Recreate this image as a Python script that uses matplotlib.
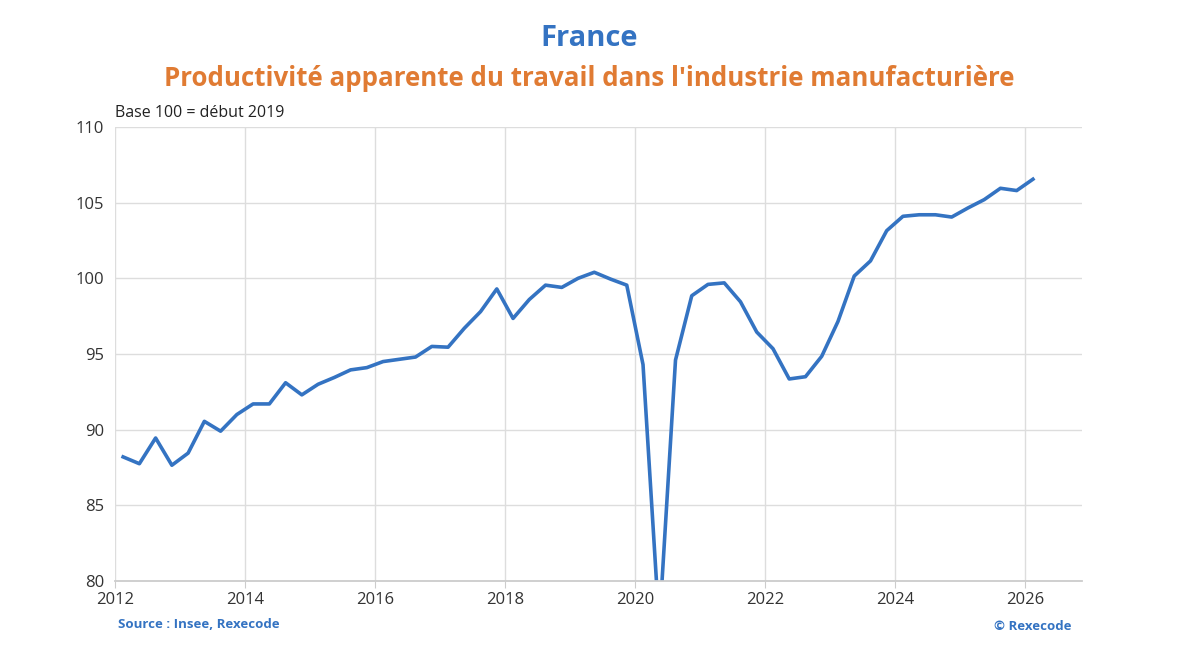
import numpy as np
import matplotlib.pyplot as plt

# Quarterly data, 2012 Q1 -> 2026 Q1 (base 100 = début 2019)
years = list(range(2012, 2027))
quarters = [y + (q * 3 + 1.5) / 12 for y in years for q in range(4)][:57]
productivity = [
    88.2, 87.75, 89.45, 87.65, 88.45, 90.55, 89.9, 91.0,
    91.7, 91.7, 93.1, 92.3, 93.0, 93.45, 93.95, 94.1,
    94.5, 94.65, 94.8, 95.5, 95.45, 96.7, 97.8, 99.3,
    97.35, 98.6, 99.55, 99.4, 100.0, 100.4, 99.95, 99.55,
    94.3, 77.0, 94.6, 98.85, 99.6, 99.7, 98.45, 96.45,
    95.35, 93.35, 93.5, 94.85, 97.15, 100.15, 101.15, 103.15,
    104.1, 104.2, 104.2, 104.05, 104.65, 105.2, 105.95, 105.8,
    106.55,
]
xticks = [2012, 2014, 2016, 2018, 2020, 2022, 2024, 2026]
yticks = [80, 85, 90, 95, 100, 105, 110]

plt.rcParams['font.family'] = ['Open Sans', 'DejaVu Sans']

fig = plt.figure(figsize=(11.79, 6.6), dpi=100)
ax = fig.add_axes([115 / 1179, 1 - 581 / 660, (1082 - 115) / 1179, (581 - 127) / 660])

ax.plot(quarters, productivity, color='#3473c2', linewidth=2.6, solid_joinstyle='round')

ax.set_xlim(2012, 2026.88)
ax.set_ylim(80, 110)
ax.set_xticks(xticks)
ax.set_yticks(yticks)
ax.grid(True, color='#dddddd', linewidth=1)
ax.set_axisbelow(True)
for s in ['top', 'right', 'left']:
    ax.spines[s].set_visible(False)
ax.spines['bottom'].set_color('#cccccc')
ax.spines['bottom'].set_linewidth(1.3)
ax.tick_params(axis='y', length=0, labelsize=12, labelcolor='#333333', pad=8)
ax.tick_params(axis='x', length=5, color='#cccccc', labelsize=12, labelcolor='#333333', pad=3)

fig.text(0.5, 1 - 38 / 660, 'France', ha='center', va='center',
         fontsize=21, fontweight='bold', color='#3473c2')
fig.text(0.5, 1 - 78 / 660, "Productivité apparente du travail dans l'industrie manufacturière",
         ha='center', va='center', fontsize=18.6, fontweight='bold', color='#e07b33')
fig.text(115 / 1179, 1 - 113 / 660, 'Base 100 = début 2019', ha='left', va='center',
         fontsize=11.5, color='#222222')
fig.text(118 / 1179, 1 - 625 / 660, 'Source : Insee, Rexecode', ha='left', va='center',
         fontsize=9.5, fontweight='bold', color='#3473c2')
fig.text(1072 / 1179, 1 - 626 / 660, '© Rexecode', ha='right', va='center',
         fontsize=9.5, fontweight='bold', color='#3473c2')

fig.savefig('out.png', dpi=100, facecolor='white')
